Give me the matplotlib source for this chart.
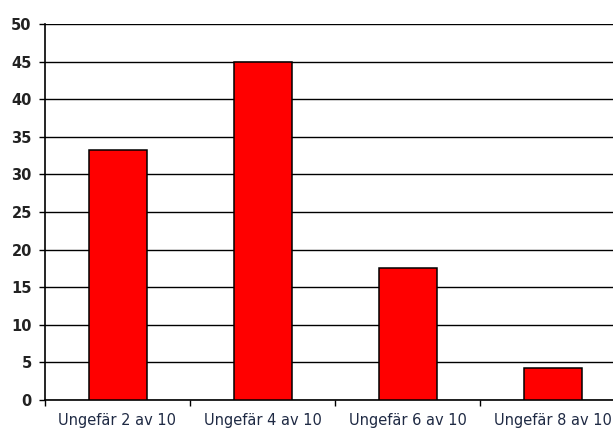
import matplotlib.pyplot as plt

# Data
categories = ['Ungefär 2 av 10', 'Ungefär 4 av 10', 'Ungefär 6 av 10', 'Ungefär 8 av 10']
values = [33.2, 45.0, 17.5, 4.2]
y_ticks = [0, 5, 10, 15, 20, 25, 30, 35, 40, 45, 50]

plt.rcParams['font.family'] = ['DejaVu Sans']

fig = plt.figure(figsize=(6.13, 4.30), dpi=100)
# axes reaches past the right edge, like the original (cut-off) chart
ax = fig.add_axes([45 / 613, 30 / 430, 580 / 613, 376 / 430])

x = list(range(len(categories)))
ax.bar(x, values, width=0.4, color='#ff0000', edgecolor='black', linewidth=1.1, zorder=3)

ax.set_xlim(-0.5, len(categories) - 0.5)
ax.set_ylim(0, 50)

# horizontal grid lines
ax.set_yticks(y_ticks)
ax.yaxis.grid(True, color='black', linewidth=1.0, zorder=1)
ax.set_axisbelow(True)
ax.tick_params(axis='y', length=4.5, width=1.0, pad=5, labelsize=10.5, colors='black')
for lbl in ax.get_yticklabels():
    lbl.set_fontweight('bold')
    lbl.set_color('#222222')

# x: ticks on category boundaries, labels at centres
ax.set_xticks([i - 0.5 for i in range(len(categories) + 1)])
ax.set_xticklabels([])
ax.set_xticks(x, minor=True)
ax.set_xticklabels(categories, minor=True)
ax.tick_params(axis='x', which='major', length=4.5, width=1.0, direction='out')
ax.tick_params(axis='x', which='minor', length=0, pad=9, labelsize=10.5, labelcolor='#1f2a44')

for side in ['top', 'right']:
    ax.spines[side].set_visible(False)
ax.spines['left'].set_linewidth(1.2)
ax.spines['bottom'].set_linewidth(1.2)

fig.savefig('out.png', dpi=100)
